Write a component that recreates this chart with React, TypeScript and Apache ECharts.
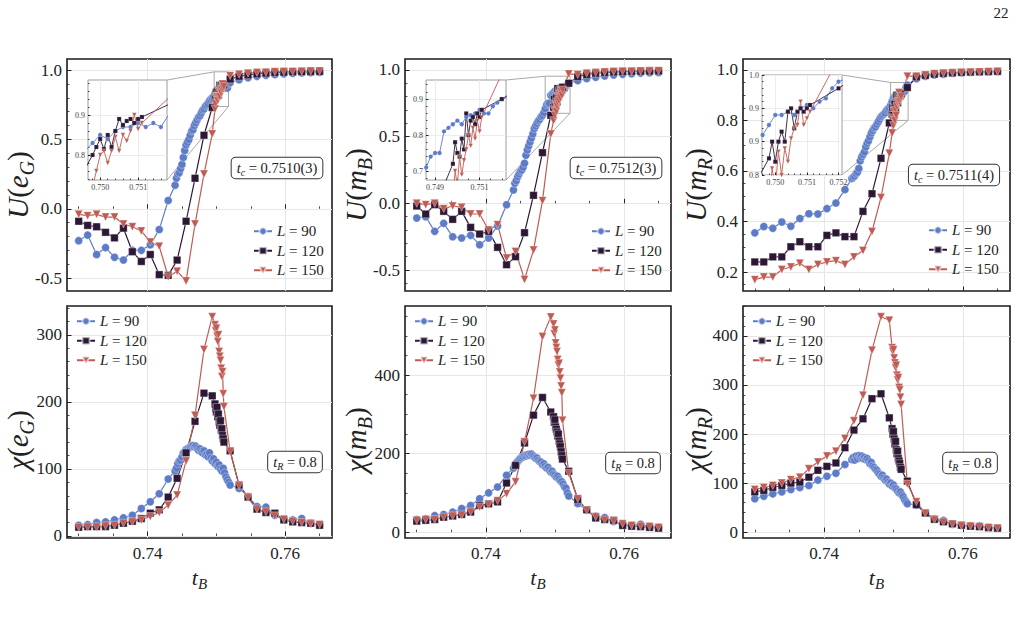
import React, { useEffect, useRef } from 'react';
import * as echarts from 'echarts';

// Temperatures t_B sampled for each lattice size
const tL90 = [
  0.7300, 0.7313, 0.7326, 0.7339, 0.7352, 0.7365, 0.7378, 0.7391, 0.7404, 0.7417, 0.7430,
  0.7440, 0.7442, 0.7444, 0.7446, 0.7448, 0.7450, 0.7452, 0.7454, 0.7456, 0.7458,
  0.7460, 0.7462, 0.7464, 0.7466, 0.7468, 0.7470, 0.7472, 0.7474, 0.7476, 0.7478,
  0.7480, 0.7482, 0.7484, 0.7486, 0.7488, 0.7490, 0.7492, 0.7494, 0.7496, 0.7498,
  0.7500, 0.7502, 0.7504, 0.7506, 0.7508, 0.7510, 0.7512, 0.7514, 0.7516, 0.7518, 0.7520,
  0.7533, 0.7546, 0.7559, 0.7572, 0.7585, 0.7598, 0.7611, 0.7624, 0.7637, 0.7650,
];
const tL120 = [
  0.7300, 0.7313, 0.7326, 0.7339, 0.7352, 0.7365, 0.7378, 0.7391, 0.7404, 0.7417, 0.7430, 0.7443, 0.7456, 0.7469, 0.7482, 0.7494,
  0.7498, 0.7499, 0.7500, 0.7501, 0.7502, 0.7503, 0.7504, 0.7505, 0.7506, 0.7507, 0.7508, 0.7509, 0.7510, 0.7511,
  0.7520, 0.7533, 0.7546, 0.7559, 0.7572, 0.7585, 0.7598, 0.7611, 0.7624, 0.7637, 0.7650,
];
const tL150 = [
  0.7300, 0.7313, 0.7326, 0.7339, 0.7352, 0.7365, 0.7378, 0.7391, 0.7404, 0.7417, 0.7430, 0.7443, 0.7456, 0.7469, 0.7482, 0.7494,
  0.7498, 0.7499, 0.7500, 0.7501, 0.7502, 0.7503, 0.7504, 0.7505, 0.7506, 0.7507, 0.7508, 0.7509, 0.7510, 0.7511,
  0.7520, 0.7533, 0.7546, 0.7559, 0.7572, 0.7585, 0.7598, 0.7611, 0.7624, 0.7637, 0.7650,
];

// Binder cumulant U(e_G)
const U_eG_L90 = [
  -0.23, -0.19, -0.33, -0.28, -0.35, -0.37, -0.30, -0.30, -0.26, -0.15, 0.06,
  0.17, 0.22, 0.25, 0.26, 0.29, 0.32, 0.37, 0.42, 0.46, 0.48,
  0.50, 0.53, 0.56, 0.57, 0.60, 0.62, 0.64, 0.66, 0.67, 0.69,
  0.71, 0.72, 0.74, 0.75, 0.76, 0.78, 0.79, 0.80, 0.81, 0.83,
  0.85, 0.84, 0.86, 0.87, 0.87, 0.88, 0.87, 0.88, 0.87, 0.90, 0.91,
  0.93, 0.945, 0.955, 0.962, 0.968, 0.973, 0.977, 0.98, 0.982, 0.984,
];
const U_eG_L120 = [
  -0.09, -0.12, -0.13, -0.17, -0.21, -0.14, -0.31, -0.38, -0.33, -0.475, -0.48, -0.37, -0.09, 0.22, 0.53, 0.73,
  0.80, 0.82, 0.84, 0.815, 0.85, 0.82, 0.86, 0.89, 0.875, 0.885, 0.89, 0.88, 0.89, 0.895,
  0.935, 0.955, 0.965, 0.972, 0.978, 0.982, 0.985, 0.987, 0.988, 0.989, 0.99,
];
const U_eG_L150 = [
  -0.04, -0.05, -0.04, -0.06, -0.06, -0.11, -0.13, -0.16, -0.24, -0.27, -0.49, -0.45, -0.52, -0.11, 0.25, 0.54,
  0.72, 0.76, 0.80, 0.81, 0.78, 0.81, 0.845, 0.81, 0.85, 0.835, 0.86, 0.90, 0.865, 0.88,
  0.96, 0.97, 0.978, 0.982, 0.985, 0.988, 0.99, 0.99, 0.992, 0.993, 0.994,
];

// Binder cumulant U(m_B)
const U_mB_L90 = [
  -0.11, -0.10, -0.21, -0.15, -0.25, -0.26, -0.24, -0.31, -0.26, -0.17, -0.01,
  0.10, 0.15, 0.17, 0.20, 0.22, 0.24, 0.25, 0.27, 0.30, 0.36,
  0.40, 0.43, 0.46, 0.49, 0.52, 0.56, 0.58, 0.60, 0.62, 0.63,
  0.65, 0.66, 0.68, 0.71, 0.74, 0.75, 0.75, 0.81, 0.82, 0.83,
  0.84, 0.83, 0.85, 0.855, 0.86, 0.87, 0.86, 0.86, 0.88, 0.89, 0.90,
  0.92, 0.935, 0.945, 0.955, 0.962, 0.968, 0.972, 0.976, 0.979, 0.981,
];
const U_mB_L120 = [
  -0.02, -0.08, -0.01, -0.06, -0.12, -0.06, -0.18, -0.23, -0.21, -0.33, -0.46, -0.40, -0.22, 0.06, 0.38, 0.66,
  0.72, 0.78, 0.75, 0.74, 0.79, 0.76, 0.86, 0.80, 0.84, 0.85, 0.83, 0.86, 0.85, 0.87,
  0.90, 0.95, 0.965, 0.975, 0.98, 0.984, 0.987, 0.989, 0.99, 0.991, 0.992,
];
const U_mB_L150 = [
  0.0, -0.01, 0.0, -0.04, -0.02, -0.03, -0.08, -0.08, -0.20, -0.16, -0.41, -0.36, -0.57, -0.35, 0.02, 0.52,
  0.62, 0.70, 0.66, 0.74, 0.69, 0.73, 0.76, 0.80, 0.77, 0.82, 0.79, 0.84, 0.81, 0.85,
  0.97, 0.965, 0.975, 0.98, 0.985, 0.988, 0.99, 0.99, 0.992, 0.993, 0.994,
];

// Binder cumulant U(m_R)
const U_mR_L90 = [
  0.355, 0.38, 0.373, 0.398, 0.381, 0.412, 0.431, 0.43, 0.451, 0.473, 0.526,
  0.57, 0.575, 0.58, 0.59, 0.595, 0.61, 0.64, 0.655, 0.665, 0.675,
  0.695, 0.71, 0.72, 0.735, 0.75, 0.76, 0.77, 0.775, 0.785, 0.795,
  0.805, 0.815, 0.82, 0.825, 0.83, 0.84, 0.845, 0.85, 0.86, 0.875,
  0.89, 0.89, 0.895, 0.89, 0.90, 0.905, 0.90, 0.91, 0.915, 0.93, 0.94,
  0.965, 0.975, 0.98, 0.983, 0.986, 0.988, 0.99, 0.991, 0.992, 0.993,
];
const U_mR_L120 = [
  0.24, 0.24, 0.26, 0.26, 0.30, 0.32, 0.30, 0.30, 0.345, 0.355, 0.34, 0.34, 0.44, 0.51, 0.65, 0.79,
  0.825, 0.85, 0.82, 0.85, 0.865, 0.85, 0.895, 0.90, 0.87, 0.895, 0.90, 0.895, 0.90, 0.905,
  0.93, 0.972, 0.978, 0.983, 0.986, 0.988, 0.99, 0.991, 0.992, 0.993, 0.994,
];
const U_mR_L150 = [
  0.17, 0.18, 0.18, 0.21, 0.22, 0.235, 0.21, 0.23, 0.24, 0.245, 0.23, 0.26, 0.285, 0.36, 0.495, 0.67,
  0.75, 0.81, 0.78, 0.835, 0.80, 0.84, 0.82, 0.855, 0.87, 0.875, 0.91, 0.875, 0.885, 0.895,
  0.975, 0.975, 0.98, 0.985, 0.987, 0.989, 0.99, 0.991, 0.992, 0.993, 0.994,
];

// Susceptibility chi(e_G)
const chi_eG_L90 = [
  16, 17, 20, 21, 24, 27, 31, 41, 51, 63, 85,
  97, 101, 108, 112, 113, 118, 124, 125, 129, 130,
  131, 133, 134, 135, 133, 134, 131, 128, 130, 126,
  124, 127, 121, 122, 118, 124, 116, 112, 115, 108,
  110, 104, 106, 100, 97, 101, 94, 88, 84, 80, 76,
  71, 59, 44, 43, 31, 24, 24, 26, 19, 16,
];
const chi_eG_L120 = [
  13, 14, 14, 14, 16, 19, 22, 26, 34, 39, 58, 86, 124, 171, 213, 209,
  197, 190, 185, 192, 178, 182, 170, 165, 172, 158, 160, 150, 145, 140,
  127, 76, 58, 40, 35, 34, 24, 21, 20, 19, 16,
];
const chi_eG_L150 = [
  13, 13, 13, 15, 16, 19, 21, 24, 29, 35, 46, 61, 112, 180, 278, 327,
  315, 306, 310, 298, 290, 300, 275, 268, 262, 250, 238, 245, 212, 193,
  126, 75, 57, 40, 36, 30, 25, 22, 20, 18, 17,
];

// Susceptibility chi(m_B)
const chi_mB_L90 = [
  32, 34, 42, 45, 51, 60, 68, 85, 100, 115, 145,
  163, 170, 176, 180, 184, 188, 190, 192, 195, 194,
  197, 198, 196, 199, 195, 192, 188, 189, 183, 180,
  178, 172, 174, 167, 163, 165, 158, 153, 155, 148,
  145, 140, 142, 135, 130, 128, 122, 115, 112, 100, 92,
  73, 56, 40, 37, 27, 20, 17, 20, 14, 12,
];
const chi_mB_L120 = [
  28, 30, 32, 38, 41, 45, 51, 68, 72, 77, 125, 170, 227, 298, 343, 306,
  294, 280, 286, 268, 262, 255, 245, 250, 232, 225, 218, 205, 195, 186,
  155, 83, 57, 36, 32, 30, 17, 15, 14, 12, 10,
];
const chi_mB_L150 = [
  30, 32, 32, 38, 41, 43, 51, 64, 70, 80, 98, 128, 230, 341, 498, 548,
  530, 505, 515, 482, 470, 460, 440, 425, 430, 408, 392, 372, 355, 285,
  150, 85, 55, 39, 30, 27, 21, 17, 15, 14, 12,
];

// Susceptibility chi(m_R)
const chi_mR_L90 = [
  68, 73, 78, 82, 87, 91, 95, 106, 114, 120, 138,
  148, 152, 147, 155, 150, 156, 153, 155, 150, 152,
  148, 150, 145, 140, 142, 135, 132, 128, 126, 121,
  118, 114, 116, 110, 106, 108, 102, 98, 100, 94,
  96, 90, 88, 84, 80, 82, 76, 72, 66, 62, 58,
  55, 39, 27, 24, 16, 14, 13, 13, 10, 8,
];
const chi_mR_L120 = [
  82, 85, 91, 95, 100, 102, 112, 126, 134, 141, 172, 208, 231, 272, 282, 233,
  211, 200, 205, 190, 180, 185, 168, 160, 165, 150, 145, 140, 132, 128,
  104, 56, 39, 26, 21, 17, 14, 12, 11, 9, 8,
];
const chi_mR_L150 = [
  87, 91, 95, 100, 107, 112, 129, 143, 155, 165, 191, 227, 279, 371, 439, 432,
  376, 368, 372, 355, 345, 335, 340, 320, 310, 315, 295, 290, 275, 260,
  98, 62, 38, 25, 20, 16, 13, 12, 11, 9, 8,
];

// Tick labels
const xMajorTicks = [0.74, 0.76];
const uMajorTicks = [-0.5, 0, 0.5, 1.0];
const uRMajorTicks = [0.2, 0.4, 0.6, 0.8, 1.0];
const chiEGMajorTicks = [0, 100, 200, 300];
const chiMBMajorTicks = [0, 200, 400];
const chiMRMajorTicks = [0, 100, 200, 300, 400];
const insetEGxTicks = [0.75, 0.751];
const insetEGyTicks = [0.8, 0.9];
const insetMBxTicks = [0.749, 0.751];
const insetMByTicks = [0.7, 0.8, 0.9];
const insetMRxTicks = [0.75, 0.751, 0.752];
const insetMRyTicks = [0.8, 0.85, 0.9, 0.95];

const sizeNames = ['L = 90', 'L = 120', 'L = 150'];
const tcLabels = ['0.7510(3)', '0.7512(3)', '0.7511(4)'];
const tcBands = [[0.75044, 0.751], [0.75081, 0.75152], [0.75039, 0.7513]];
const tRLabel = '0.8';

const FONT = "'Liberation Serif', 'DejaVu Serif', serif";
const INK = '#222222';
const SERIES_STYLE = [
  { color: '#5d7bc7', symbol: 'circle', size: 8, rotate: 0 },
  { color: '#2c1834', symbol: 'rect', size: 7.5, rotate: 0 },
  { color: '#bf5b52', symbol: 'triangle', size: 8, rotate: 180 },
];
const T_ARRAYS = [tL90, tL120, tL150];

const X_MIN = 0.7283;
const X_MAX = 0.7668;
const COL_LEFT = [67, 405, 743];
const COL_W = [265, 266, 267];
const ROW_TOP = [59, 306];
const PANEL_H = 232;

function minorTicks(lo: number, hi: number, step: number, majors: number[]) {
  const out: number[] = [];
  const n0 = Math.ceil(lo / step - 1e-9);
  const n1 = Math.floor(hi / step + 1e-9);
  for (let k = n0; k <= n1; k++) {
    const v = +(k * step).toFixed(8);
    if (!majors.some((m) => Math.abs(m - v) < step * 1e-3)) out.push(v);
  }
  return out;
}

function mathRich(size: number, color = INK) {
  const sub = Math.round(size * 0.68);
  return {
    i: { fontFamily: FONT, fontStyle: 'italic', fontSize: size, lineHeight: size + 4, verticalAlign: 'middle', fill: color, color },
    n: { fontFamily: FONT, fontSize: size, lineHeight: size + 4, verticalAlign: 'middle', fill: color, color },
    s: { fontFamily: FONT, fontStyle: 'italic', fontSize: sub, lineHeight: sub, padding: [Math.round(size * 0.6), 0, 0, 0], verticalAlign: 'middle', fill: color, color },
  };
}

type Panel = {
  col: number; row: number; y: [number, number]; major: number[]; minorStep: number; digits: number;
  data: number[][]; title: string; legend: [number, number]; box: [number, number]; inset?: number;
};

const panels: Panel[] = [
  { col: 0, row: 0, y: [-0.593, 1.08], major: uMajorTicks, minorStep: 0.1, digits: 1, data: [U_eG_L90, U_eG_L120, U_eG_L150], title: '{i|U}{n|(}{i|e}{s|G}{n|)}', legend: [253, 223], box: [277, 168], inset: 0 },
  { col: 1, row: 0, y: [-0.657, 1.082], major: uMajorTicks, minorStep: 0.1, digits: 1, data: [U_mB_L90, U_mB_L120, U_mB_L150], title: '{i|U}{n|(}{i|m}{s|B}{n|)}', legend: [591, 223], box: [616, 168], inset: 1 },
  { col: 2, row: 0, y: [0.125, 1.043], major: uRMajorTicks, minorStep: 0.05, digits: 1, data: [U_mR_L90, U_mR_L120, U_mR_L150], title: '{i|U}{n|(}{i|m}{s|R}{n|)}', legend: [928, 222], box: [954, 175], inset: 2 },
  { col: 0, row: 1, y: [-3, 343], major: chiEGMajorTicks, minorStep: 20, digits: 0, data: [chi_eG_L90, chi_eG_L120, chi_eG_L150], title: '{i|χ}{n|(}{i|e}{s|G}{n|)}', legend: [76, 313], box: [295, 462] },
  { col: 1, row: 1, y: [-15, 576], major: chiMBMajorTicks, minorStep: 50, digits: 0, data: [chi_mB_L90, chi_mB_L120, chi_mB_L150], title: '{i|χ}{n|(}{i|m}{s|B}{n|)}', legend: [414, 313], box: [633, 463] },
  { col: 2, row: 1, y: [-12, 461], major: chiMRMajorTicks, minorStep: 20, digits: 0, data: [chi_mR_L90, chi_mR_L120, chi_mR_L150], title: '{i|χ}{n|(}{i|m}{s|R}{n|)}', legend: [752, 313], box: [970, 463] },
];

type Inset = {
  rect: [number, number, number, number]; x: [number, number]; y: [number, number];
  xMajor: number[]; xMinorStep: number; yMajor: number[]; yMinorStep: number; yFmt: (v: number) => string;
};

const insets: Inset[] = [
  { rect: [88, 80, 79, 100], x: [0.74968, 0.75176], y: [0.7375, 0.9875], xMajor: insetEGxTicks, xMinorStep: 0.0002, yMajor: insetEGyTicks, yMinorStep: 0.02, yFmt: (v) => v.toFixed(1) },
  { rect: [426, 80, 80, 100], x: [0.74859, 0.75219], y: [0.675, 0.953], xMajor: insetMBxTicks, xMinorStep: 0.0005, yMajor: insetMByTicks, yMinorStep: 0.02, yFmt: (v) => v.toFixed(1) },
  { rect: [762, 75, 80, 100], x: [0.74958, 0.75211], y: [0.8, 0.95], xMajor: insetMRxTicks, xMinorStep: 0.0002, yMajor: insetMRyTicks, yMinorStep: 0.01, yFmt: (v) => (Math.round(v * 10) / 10).toFixed(1) },
];

function axisPair(dim: 'x' | 'y', gridIndex: number, min: number, max: number, major: number[], minor: number[], o: any) {
  const base = { type: 'value', gridIndex, min, max, position: dim === 'x' ? 'bottom' : 'left', axisLine: { show: false }, z: o.z, silent: true };
  return [
    {
      ...base,
      axisTick: { show: true, inside: true, length: o.majorLen, customValues: major, lineStyle: { color: INK, width: 1 } },
      axisLabel: { show: o.labels, customValues: major, formatter: o.fmt, fontFamily: FONT, fontSize: o.fontSize, color: o.color, margin: o.margin },
      splitLine: { show: true, lineStyle: { color: o.gridColor, width: 1 } },
    },
    {
      ...base,
      axisTick: { show: true, inside: true, length: o.minorLen, customValues: minor, lineStyle: { color: INK, width: 0.8 } },
      axisLabel: { show: false },
      splitLine: { show: false },
    },
  ];
}

function lineSeries(k: number, ys: number[], axisIndex: number, small: boolean) {
  const st = SERIES_STYLE[k];
  const xs = T_ARRAYS[k];
  return {
    type: 'line',
    name: sizeNames[k],
    xAxisIndex: axisIndex,
    yAxisIndex: axisIndex,
    data: xs.map((x, j) => [x, ys[j]]),
    symbol: st.symbol,
    symbolSize: small ? st.size * 0.55 : st.size,
    symbolRotate: st.rotate,
    showSymbol: true,
    lineStyle: { color: st.color, width: small ? 0.9 : 1.2 },
    itemStyle: { color: st.color, borderColor: 'rgba(255,255,255,0.55)', borderWidth: small ? 0.3 : 0.6 },
    clip: true,
    silent: true,
    z: small ? 12 : 2,
    emphasis: { disabled: true },
  };
}

function buildOption() {
  const grid: any[] = [];
  const xAxis: any[] = [];
  const yAxis: any[] = [];
  const series: any[] = [];
  const legend: any[] = [];

  panels.forEach((p) => {
    const g = grid.length;
    grid.push({ left: COL_LEFT[p.col], top: ROW_TOP[p.row], width: COL_W[p.col], height: PANEL_H, show: true, borderColor: '#1b1b1b', borderWidth: 1.6, backgroundColor: 'transparent', containLabel: false });
    const xMinor = minorTicks(X_MIN, X_MAX, 0.005, xMajorTicks);
    xAxis.push(...axisPair('x', g, X_MIN, X_MAX, xMajorTicks, xMinor, {
      z: 0, majorLen: 4.5, minorLen: 2.5, labels: p.row === 1, fmt: (v: number) => v.toFixed(2), fontSize: 17, color: INK, margin: 7, gridColor: '#e6e6e6',
    }));
    const yMinor = minorTicks(p.y[0], p.y[1], p.minorStep, p.major);
    yAxis.push(...axisPair('y', g, p.y[0], p.y[1], p.major, yMinor, {
      z: 0, majorLen: 4.5, minorLen: 2.5, labels: true, fmt: (v: number) => v.toFixed(p.digits), fontSize: 17, color: INK, margin: 5, gridColor: '#e6e6e6',
    }));
    for (let k = 0; k < 3; k++) series.push(lineSeries(k, p.data[k], 2 * g, false));
    legend.push({
      orient: 'vertical', left: p.legend[0], top: p.legend[1], itemWidth: 18, itemHeight: 9, itemGap: 3, padding: 0,
      selectedMode: false, data: sizeNames,
      textStyle: { fontFamily: FONT, fontSize: 15, color: INK, lineHeight: 16.5, rich: {
        i: { fontFamily: FONT, fontStyle: 'italic', fontSize: 15, color: INK, lineHeight: 16.5 },
        n: { fontFamily: FONT, fontSize: 15, color: INK, lineHeight: 16.5 },
      } },
      formatter: (name: string) => `{i|L}{n| = ${name.split('= ')[1]}}`,
    });
  });

  panels.forEach((p, pi) => {
    if (p.inset === undefined) return;
    const ins = insets[p.inset];
    const g = grid.length;
    grid.push({ left: ins.rect[0], top: ins.rect[1], width: ins.rect[2], height: ins.rect[3], show: true, borderColor: '#9c9c9c', borderWidth: 1, backgroundColor: '#ffffff', z: 10, containLabel: false });
    xAxis.push(...axisPair('x', g, ins.x[0], ins.x[1], ins.xMajor, minorTicks(ins.x[0], ins.x[1], ins.xMinorStep, ins.xMajor), {
      z: 11, majorLen: 2.5, minorLen: 1.5, labels: true, fmt: (v: number) => v.toFixed(3), fontSize: 8, color: '#444', margin: 3, gridColor: '#ececec',
    }));
    yAxis.push(...axisPair('y', g, ins.y[0], ins.y[1], ins.yMajor, minorTicks(ins.y[0], ins.y[1], ins.yMinorStep, ins.yMajor), {
      z: 11, majorLen: 2.5, minorLen: 1.5, labels: true, fmt: ins.yFmt, fontSize: 8, color: '#444', margin: 3, gridColor: '#ececec',
    }));
    const band = tcBands[p.inset];
    series.push({
      type: 'line', name: `band${pi}`, xAxisIndex: 2 * g, yAxisIndex: 2 * g, data: [], z: 11, silent: true,
      markArea: { silent: true, itemStyle: { color: 'rgba(125,190,125,0.32)' }, label: { show: false }, data: [[{ xAxis: band[0] }, { xAxis: band[1] }]] },
    });
    for (let k = 0; k < 3; k++) series.push(lineSeries(k, p.data[k], 2 * g, true));
  });

  return { animation: false, backgroundColor: '#ffffff', grid, xAxis, yAxis, series, legend };
}

function buildGraphics(chart: any) {
  const els: any[] = [];
  // page number
  els.push({ type: 'text', x: 1001, y: 13, silent: true, style: { text: '22', fontFamily: FONT, fontSize: 15, fill: INK, align: 'center', verticalAlign: 'middle' } });
  const titleX = [18, 356, 696];
  const titleY = [185, 440];
  panels.forEach((p) => {
    const cx = COL_LEFT[p.col] + COL_W[p.col] / 2;
    els.push({ type: 'text', x: titleX[p.col], y: titleY[p.row], rotation: Math.PI / 2, silent: true, style: { text: p.title, rich: mathRich(29), align: 'center', verticalAlign: 'middle', fill: INK } });
    if (p.row === 1) {
      els.push({ type: 'text', x: cx, y: 577, silent: true, style: { text: '{i|t}{s|B}', rich: mathRich(22), align: 'center', verticalAlign: 'middle', fill: INK } });
    }
    const boxText = p.row === 0 ? `{i|t}{s|c}{n| = ${tcLabels[p.col]}}` : `{i|t}{s|R}{n| = ${tRLabel}}`;
    els.push({
      type: 'text', x: p.box[0], y: p.box[1], z: 30, silent: true,
      style: { text: boxText, rich: mathRich(14.5), align: 'center', verticalAlign: 'middle', fill: INK, backgroundColor: '#ffffff', borderColor: '#333333', borderWidth: 1, borderRadius: 4, padding: [1, 5, 1, 5] },
    });
  });
  // zoom indicators for the insets
  panels.forEach((p, pi) => {
    if (p.inset === undefined) return;
    const ins = insets[p.inset];
    const ai = 2 * pi;
    const bl = chart.convertToPixel({ xAxisIndex: ai, yAxisIndex: ai }, [ins.x[0], ins.y[0]]);
    const tr = chart.convertToPixel({ xAxisIndex: ai, yAxisIndex: ai }, [ins.x[1], ins.y[1]]);
    const line = { stroke: '#a8a8a8', lineWidth: 1, fill: null };
    els.push({ type: 'rect', z: 1, silent: true, shape: { x: bl[0], y: tr[1], width: tr[0] - bl[0], height: bl[1] - tr[1] }, style: { ...line, fill: 'none' } });
    const ir = ins.rect[0] + ins.rect[2];
    els.push({ type: 'line', z: 1, silent: true, shape: { x1: ir, y1: ins.rect[1], x2: bl[0], y2: tr[1] }, style: line });
    els.push({ type: 'line', z: 1, silent: true, shape: { x1: ir, y1: ins.rect[1] + ins.rect[3], x2: tr[0], y2: bl[1] }, style: line });
  });
  return els;
}

export default function App() {
  const ref = useRef<HTMLDivElement>(null);
  useEffect(() => {
    if (!ref.current) return;
    const chart = echarts.init(ref.current, null, { renderer: 'svg' });
    chart.setOption(buildOption() as any);
    chart.setOption({ graphic: buildGraphics(chart) } as any);
    return () => chart.dispose();
  }, []);
  return <div ref={ref} style={{ position: 'absolute', left: 0, top: 0, width: 1021, height: 622, background: '#fff' }} />;
}
